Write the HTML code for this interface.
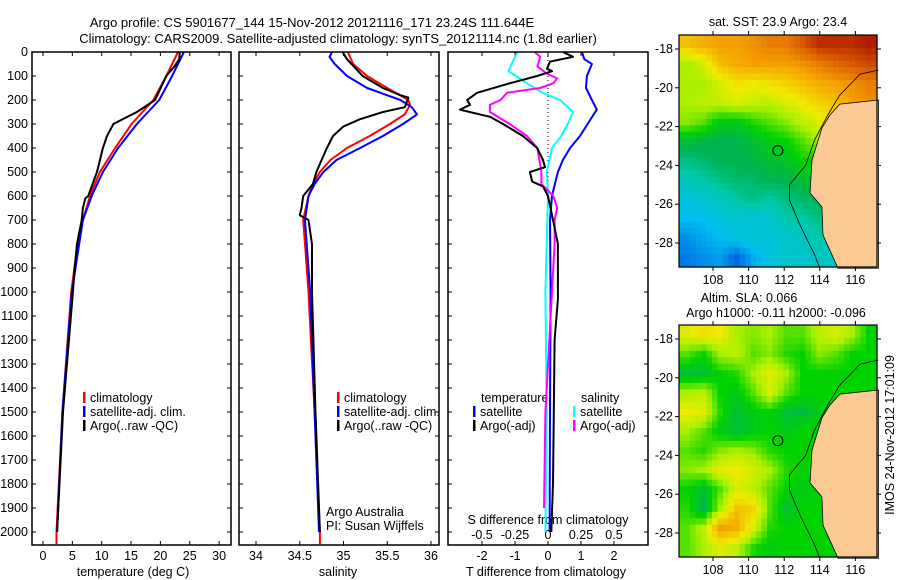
<!DOCTYPE html>
<html><head><meta charset="utf-8">
<style>
html,body{margin:0;padding:0;background:#fff;}
svg{display:block;font-family:"Liberation Sans",sans-serif;}
text{font-size:12.5px;fill:#000;}
</style></head>
<body>
<svg id="fig" width="900" height="580" viewBox="0 0 900 580" xmlns="http://www.w3.org/2000/svg">
<text x="312" y="27" text-anchor="middle" style="font-size:13px">Argo profile: CS 5901677_144 15-Nov-2012 20121116_171 23.24S 111.644E</text>
<text x="338" y="43" text-anchor="middle" style="font-size:13px">Climatology: CARS2009. Satellite-adjusted climatology: synTS_20121114.nc (1.8d earlier)</text>
<g id="layer"></g>
</svg>
<script>
// ---------- data ----------
const depthTicks=[0,100,200,300,400,500,600,700,800,900,1000,1100,1200,1300,1400,1500,1600,1700,1800,1900,2000];
const tempTicks=[0,5,10,15,20,25,30];
const salTicks=[34,34.5,35,35.5,36];
const tdiffTicks=[-2,-1,0,1,2];
const sdiffTicks=[-0.5,-0.25,0,0.25,0.5];
const sdiffLabels=["-0.5","-0.25","0","0.25","0.5"];

const tClimDepth=[0,100,200,300,400,500,600,700,800,1000,1500,2000,2050];
const tClim=[23,21,18.8,15.1,12.3,9.7,8,6.8,5.9,4.8,3.3,2.3,2.3];
const tSatDepth=[0,100,200,300,400,500,600,700,1000,1500,2000];
const tSat=[24,22,19.8,16,12.8,10.2,8.3,6.8,4.9,3.3,2.4];
const tArgoDepth=[0,30,60,100,200,250,300,350,400,500,600,610,650,700,800,900,1000,1500,2000];
const tArgo=[23.3,23.2,22.4,21,19.1,16,12,10.9,10.2,9.2,7.7,7.2,6.8,6.6,5.8,5.4,5.1,3.4,2.4];

const sClimDepth=[0,50,100,150,200,220,260,300,350,400,450,500,550,600,700,800,1000,1500,2000,2050];
const sClim=[35.05,35.11,35.27,35.5,35.74,35.76,35.7,35.53,35.3,35.04,34.85,34.73,34.65,34.6,34.54,34.56,34.6,34.67,34.73,34.73];
const sSatDepth=[0,20,50,100,150,200,230,260,300,350,400,450,500,550,600,700,800,1000,1500,2000];
const sSat=[34.87,34.84,34.9,35.04,35.27,35.65,35.78,35.84,35.68,35.45,35.19,34.92,34.77,34.67,34.6,34.56,34.58,34.62,34.67,34.72];
const sArgoDepth=[0,30,100,150,180,190,230,250,280,310,350,400,450,500,550,600,650,680,700,750,800,1000,1500,2000];
const sArgo=[34.99,35.04,35.22,35.45,35.65,35.74,35.7,35.45,35.19,35.0,34.88,34.81,34.75,34.69,34.65,34.54,34.52,34.5,34.6,34.62,34.64,34.64,34.68,34.73];

const dTSatDepth=[0,30,50,100,150,200,240,300,350,400,450,500,550,600,700,1000,1500,2000];
const dTSat=[1.03,1.1,1.33,1.18,1.15,1.33,1.48,1.2,0.97,0.67,0.45,0.3,0.21,0.12,0.06,0.08,0.06,0.05];
const dTArgoDepth=[0,20,40,70,80,100,130,170,200,220,240,270,300,350,400,450,480,500,540,560,600,700,800,1030,1200,1800,2000];
const dTArgo=[0.45,0.76,0.06,-0.03,0.12,-0.33,-1.15,-2.15,-2.45,-2.36,-2.67,-1.76,-1.36,-0.76,-0.33,-0.15,-0.09,-0.55,-0.48,-0.15,0,0.15,0.3,0.3,0.2,0.15,0.1];
const dSSatDepth=[0,20,80,130,170,200,250,300,350,400,500,600,1000,1500,2000];
const dSSat=[-0.23,-0.25,-0.3,-0.16,-0.04,0.09,0.19,0.15,0.1,0.03,-0.01,0,-0.02,-0.01,-0.02];
const dSArgoDepth=[0,20,40,60,90,110,130,150,170,200,220,250,300,350,400,500,550,600,650,700,800,1000,1500,1900];
const dSArgo=[-0.1,-0.06,-0.07,-0.08,-0.01,0.07,0.04,-0.06,-0.31,-0.36,-0.44,-0.44,-0.29,-0.16,-0.08,-0.05,-0.05,0.04,0.07,0.05,0.05,0.03,-0.02,-0.03];

const sstGrid=[
[.75,.78,.8,.8,.82,.85,.85,.9,.95,.95,.95,.97],
[.6,.65,.75,.78,.8,.8,.8,.82,.85,.88,.9,.92],
[.6,.6,.65,.7,.68,.7,.72,.75,.78,.8,.82,.85],
[.6,.62,.63,.65,.63,.62,.65,.68,.72,.75,.8,.82],
[.58,.55,.48,.48,.52,.55,.58,.62,.66,.7,.75,.8],
[.45,.43,.42,.42,.45,.48,.5,.55,.6,.65,.7,.75],
[.38,.4,.42,.42,.43,.45,.46,.5,.5,.5,.5,.5],
[.33,.35,.38,.4,.4,.42,.42,.45,.45,.45,.45,.45],
[.28,.3,.32,.35,.38,.35,.38,.4,.42,.42,.42,.42],
[.25,.25,.28,.3,.28,.3,.35,.35,.38,.4,.4,.4],
[.18,.22,.25,.28,.3,.28,.3,.32,.35,.33,.3,.3],
[.15,.18,.2,.12,.22,.28,.3,.3,.32,.3,.3,.3]];
const slaGrid=[
[.66,.7,.68,.6,.58,.6,.55,.55,.62,.65,.6,.5],
[.55,.5,.6,.62,.55,.58,.52,.5,.58,.55,.5,.5],
[.45,.45,.5,.52,.6,.66,.6,.5,.5,.5,.5,.5],
[.6,.62,.5,.48,.55,.65,.55,.5,.5,.5,.5,.5],
[.68,.66,.52,.45,.48,.5,.45,.44,.48,.5,.5,.5],
[.6,.55,.48,.45,.48,.5,.48,.5,.5,.5,.5,.5],
[.55,.52,.58,.6,.58,.52,.5,.5,.5,.5,.5,.5],
[.58,.6,.66,.68,.65,.6,.52,.5,.5,.5,.5,.5],
[.5,.45,.55,.65,.62,.55,.5,.48,.5,.5,.5,.5],
[.52,.42,.6,.75,.72,.55,.45,.5,.5,.5,.5,.5],
[.55,.62,.8,.78,.65,.52,.5,.5,.5,.5,.5,.5],
[.55,.6,.66,.62,.52,.48,.5,.5,.5,.5,.5,.5]];
const lonTicks=[108,110,112,114,116];
const latTicks=[-18,-20,-22,-24,-26,-28];
const landLon=[117.3,115.13,114.57,114.12,113.56,113.45,114.12,114.18,115.02,117.3];
const landLat=[-20.63,-20.84,-21.4,-22.07,-23.72,-25.42,-26.14,-27.59,-29.3,-29.3];
const contLon=[117.3,116.25,115.1,114.45,113.7,113.2,112.3,112.3,112.9,113.7,114];
const contLat=[-19.08,-19.3,-20.4,-21.4,-22.7,-24,-25,-25.8,-27.1,-28.6,-29.3];
const argoLon=111.644, argoLat=-23.24;

// ---------- drawing ----------
const NS="http://www.w3.org/2000/svg";
const L=document.getElementById('layer');
function mk(tag,attrs,parent){const e=document.createElementNS(NS,tag);for(const k in attrs)e.setAttribute(k,attrs[k]);(parent||L).appendChild(e);return e;}
function txt(x,y,s,anchor,parent){const t=mk('text',{x:x,y:y,'text-anchor':anchor||'middle'},parent);t.textContent=s;return t;}
const yD=d=>52+d*0.24;
const PB=545;

function frame(x0,x1,name){
  const r=mk('rect',{x:x0,y:52,width:x1-x0,height:PB-52,fill:'none',stroke:'#000','stroke-width':1.5});
  
  
}
function line(xs,ds,fx,color,name,w){
  const pts=xs.map((v,i)=>fx(v).toFixed(1)+','+yD(ds[i]).toFixed(1)).join(' ');
  const p=mk('polyline',{points:pts,fill:'none',stroke:color,'stroke-width':w||2,'stroke-linejoin':'round'});
  
  
}
function xticks(vals,fx,labels,g){
  vals.forEach((v,i)=>{const x=fx(v);
    mk('line',{x1:x,x2:x,y1:52,y2:56,stroke:'#000'},g);
    mk('line',{x1:x,x2:x,y1:PB,y2:PB-4,stroke:'#000'},g);
    if(labels){const t=txt(x,560,labels[i],'middle',g);
      
      }
  });
}
function yticks(x0,x1,lab,g){
  depthTicks.forEach(d=>{const y=yD(d);
    mk('line',{x1:x0,x2:x0+4,y1:y,y2:y,stroke:'#000'},g);
    mk('line',{x1:x1,x2:x1-4,y1:y,y2:y,stroke:'#000'},g);
    if(lab){const t=txt(28,y+4,String(d),'end',g);
      
      }
  });
}
function legend(x,y,items,g){
  items.forEach((it,i)=>{
    mk('rect',{x:x,y:y+i*14-10,width:2.5,height:11,fill:it[0]},g);
    const t=txt(x+7,y+i*14,it[1],'start',g);
    
    
  });
}

// Panel 1 temperature
const g1=mk('g',{});


const fT=v=>43+v*5.87;
line(tClim,tClimDepth,fT,'#f00','temp-climatology-line');
line(tSat,tSatDepth,fT,'#00f','temp-satellite-line');
line(tArgo,tArgoDepth,fT,'#000','temp-argo-line');
frame(32,231,'temperature-axes');
xticks(tempTicks,fT,tempTicks.map(String),g1);
yticks(32,231,true,g1);
const tt=txt(133,576,'temperature (deg C)','middle',g1);


legend(83,402,[['#f00','climatology'],['#00f','satellite-adj. clim.'],['#000','Argo(..raw -QC)']],g1);

// Panel 2 salinity
const g2=mk('g',{});


const fS=v=>256+(v-34)*87.5;
line(sClim,sClimDepth,fS,'#f00','sal-climatology-line');
line(sSat,sSatDepth,fS,'#00f','sal-satellite-line');
line(sArgo,sArgoDepth,fS,'#000','sal-argo-line');
frame(239,439,'salinity-axes');
xticks(salTicks,fS,salTicks.map(String),g2);
yticks(239,439,false,g2);
const st=txt(338,576,'salinity','middle',g2);


legend(337,402,[['#f00','climatology'],['#00f','satellite-adj. clim.'],['#000','Argo(..raw -QC)']],g2);
const a1=txt(326,516,'Argo Australia','start',g2);


const a2=txt(326,530,'PI: Susan Wijffels','start',g2);



// Panel 3 differences
const g3=mk('g',{});


const fdT=v=>548+v*33;
const fdS=v=>548+v*132;
const zl=mk('line',{x1:548,x2:548,y1:52,y2:yD(620),stroke:'#000','stroke-dasharray':'1,3'},g3);


line(dTSat,dTSatDepth,fdT,'#00f','dT-satellite-line');
line(dSSat,dSSatDepth,fdS,'#0ff','dS-satellite-line');
line(dSArgo,dSArgoDepth,fdS,'#f0f','dS-argo-line');
line(dTArgo,dTArgoDepth,fdT,'#000','dT-argo-line');
frame(448,648,'difference-axes');
xticks(tdiffTicks,fdT,tdiffTicks.map(String),g3);
yticks(448,648,false,g3);
sdiffTicks.forEach((v,i)=>{const t=txt(fdS(v),539,sdiffLabels[i],'middle',g3);
  
  });
const sdt=txt(548,524,'S difference from climatology','middle',g3);


const tdt=txt(546,576,'T difference from climatology','middle',g3);


const lt=txt(481,402,'temperature','start',g3);


const ls=txt(581,402,'salinity','start',g3);


legend(473,416,[['#00f','satellite'],['#000','Argo(-adj)']],g3);
legend(573,416,[['#0ff','satellite'],['#f0f','Argo(-adj)']],g3);

// ---------- maps ----------
const stops=[[0,[0,60,200]],[0.1,[0,90,225]],[0.25,[0,190,240]],[0.35,[0,200,170]],[0.42,[0,180,80]],[0.5,[0,210,0]],[0.6,[170,240,0]],[0.68,[240,235,0]],[0.8,[245,160,0]],[0.9,[215,90,0]],[1,[160,0,0]]];
function cmap(v){for(let i=1;i<stops.length;i++){if(v<=stops[i][0]){const a=stops[i-1],b=stops[i];const t=(v-a[0])/(b[0]-a[0]);
  return 'rgb('+a[1].map((c,k)=>Math.round(c+(b[1][k]-c)*t)).join(',')+')';}}return 'rgb(160,0,0)';}
function sample(grid,fr,fc){
  const R=grid.length-1,C=grid[0].length-1;
  fr=Math.max(0,Math.min(R,fr));fc=Math.max(0,Math.min(C,fc));
  const r0=Math.floor(fr),c0=Math.floor(fc),r1=Math.min(R,r0+1),c1=Math.min(C,c0+1);
  const tr=fr-r0,tc=fc-c0;
  return grid[r0][c0]*(1-tr)*(1-tc)+grid[r0][c1]*(1-tr)*tc+grid[r1][c0]*tr*(1-tc)+grid[r1][c1]*tr*tc;
}
function drawMap(top,grid,name){
  const g=mk('g',{});
  
  
  const left=679,right=877,bottom=top+232;
  const fx=lon=>713+(lon-108)*17.8;
  const fy=lat=>top+14+(-18-lat)*19.4;
  const rows=grid.length,cols=grid[0].length;
  const SUB=3;
  const cw=(right-left)/(cols*SUB),ch=(bottom-top)/(rows*SUB);
  for(let r=0;r<rows*SUB;r++)for(let c=0;c<cols*SUB;c++){
    const v=sample(grid,(r+0.5)/SUB-0.5,(c+0.5)/SUB-0.5);
    const cell=mk('rect',{x:(left+c*cw).toFixed(2),y:(top+r*ch).toFixed(2),width:(cw+0.6).toFixed(2),height:(ch+0.6).toFixed(2),fill:cmap(v)},g);
    
    
  }
  const land=mk('polygon',{points:landLon.map((l,i)=>fx(l).toFixed(1)+','+fy(landLat[i]).toFixed(1)).join(' '),fill:'#fbc993',stroke:'#000','stroke-width':0.8},g);
  
  
  const cont=mk('polyline',{points:contLon.map((l,i)=>fx(l).toFixed(1)+','+fy(contLat[i]).toFixed(1)).join(' '),fill:'none',stroke:'#000','stroke-width':0.8},g);
  
  
  const c=mk('circle',{cx:fx(argoLon),cy:fy(argoLat),r:5,fill:'none',stroke:'#000','stroke-width':1},g);
  
  
  mk('rect',{x:left,y:top,width:right-left,height:bottom-top,fill:'none',stroke:'#000','stroke-width':1.2},g);
  lonTicks.forEach(l=>{const x=fx(l);
    mk('line',{x1:x,x2:x,y1:top,y2:top-4,stroke:'#000'},g);
    mk('line',{x1:x,x2:x,y1:bottom,y2:bottom+4,stroke:'#000'},g);
    const t=txt(x,bottom+17,String(l),'middle',g);
    
    });
  latTicks.forEach(l=>{const y=fy(l);
    mk('line',{x1:left,x2:left-4,y1:y,y2:y,stroke:'#000'},g);
    mk('line',{x1:right,x2:right+4,y1:y,y2:y,stroke:'#000'},g);
    const t=txt(left-6,y+4,String(l),'end',g);
    
    });
}
drawMap(35,sstGrid,'sst-map');
drawMap(325,slaGrid,'sla-map');
const m1=txt(778,26,'sat. SST: 23.9  Argo: 23.4');


const m2=txt(749,302,'Altim. SLA: 0.066');


const m3=txt(776,317,'Argo h1000: -0.11 h2000: -0.096');


const im=txt(0,0,'IMOS 24-Nov-2012 17:01:09','middle');
im.setAttribute('transform','translate(894,435) rotate(-90)');


</script>
</body></html>
